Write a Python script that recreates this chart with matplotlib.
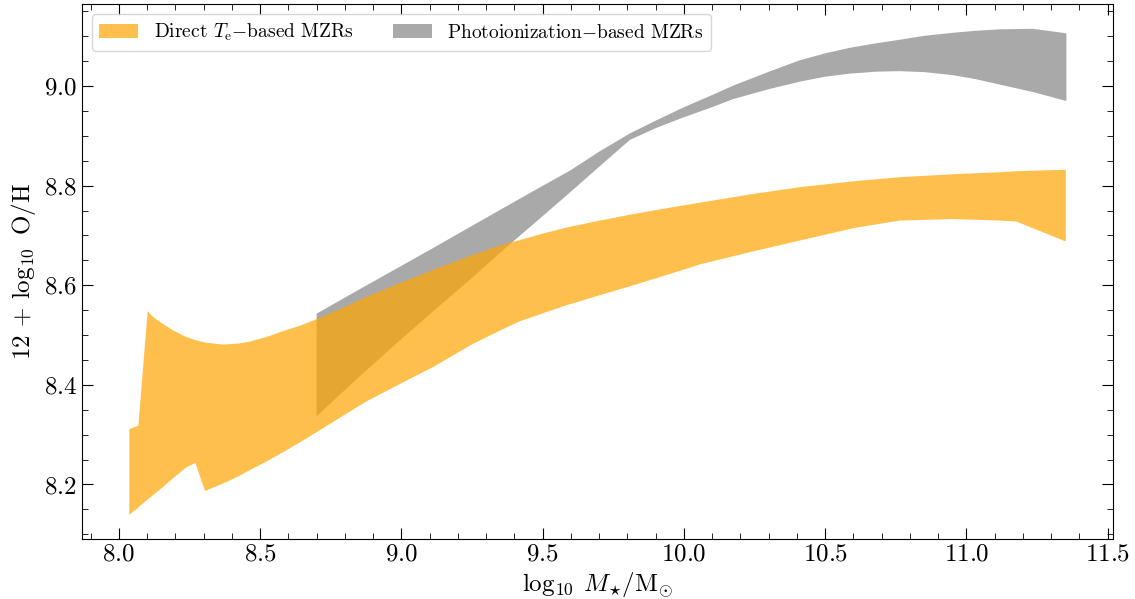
import numpy as np
import matplotlib.pyplot as plt
from matplotlib.patches import Patch
from matplotlib.ticker import MultipleLocator

plt.rcParams['font.family'] = 'serif'
plt.rcParams['font.serif'] = ['cmr10']
plt.rcParams['mathtext.fontset'] = 'cm'
plt.rcParams['axes.formatter.use_mathtext'] = True

# direct Te-based MZRs: envelope of the individual relations
te_mass = [8.035, 8.067, 8.100, 8.120, 8.150, 8.191, 8.238, 8.269, 8.303, 8.367,
           8.420, 8.462, 8.520, 8.580, 8.640, 8.698, 8.800, 8.875, 9.000, 9.111,
           9.250, 9.347, 9.418, 9.500, 9.583, 9.700, 9.819, 9.950, 10.055, 10.250,
           10.409, 10.600, 10.762, 10.950, 11.116, 11.175, 11.350]
te_upper = [8.312, 8.319, 8.549, 8.537, 8.525, 8.510, 8.497, 8.491, 8.486, 8.482,
            8.484, 8.488, 8.497, 8.509, 8.520, 8.533, 8.558, 8.578, 8.607, 8.632,
            8.662, 8.681, 8.692, 8.705, 8.717, 8.731, 8.744, 8.757, 8.767, 8.785,
            8.798, 8.810, 8.818, 8.824, 8.828, 8.830, 8.833]
te_lower = [8.140, 8.155, 8.171, 8.180, 8.194, 8.214, 8.236, 8.244, 8.188, 8.203,
            8.217, 8.230, 8.247, 8.266, 8.286, 8.306, 8.342, 8.368, 8.405, 8.437,
            8.483, 8.510, 8.529, 8.545, 8.561, 8.581, 8.601, 8.624, 8.643, 8.670,
            8.691, 8.716, 8.731, 8.734, 8.731, 8.729, 8.689]

# photoionization-based MZRs
ph_mass = [8.698, 8.850, 8.976, 9.111, 9.250, 9.365, 9.480, 9.594, 9.700, 9.807,
           9.900, 9.996, 10.090, 10.173, 10.300, 10.409, 10.500, 10.586, 10.680,
           10.762, 10.850, 10.950, 11.030, 11.116, 11.234, 11.352]
ph_upper = [8.544, 8.593, 8.633, 8.676, 8.721, 8.758, 8.795, 8.831, 8.870, 8.906,
            8.932, 8.958, 8.981, 9.002, 9.030, 9.053, 9.067, 9.078, 9.087,
            9.094, 9.102, 9.108, 9.112, 9.115, 9.116, 9.107]
ph_lower = [8.338, 8.418, 8.482, 8.549, 8.617, 8.675, 8.731, 8.787, 8.840, 8.893,
            8.917, 8.938, 8.957, 8.975, 8.995, 9.010, 9.020, 9.026, 9.030,
            9.031, 9.029, 9.023, 9.015, 9.004, 8.989, 8.971]

fig = plt.figure(figsize=(11.35, 5.99), dpi=100)
ax = fig.add_axes([0.0722, 0.1007, 0.9082, 0.8926])

ax.fill_between(ph_mass, ph_lower, ph_upper, color='darkgray', lw=0)
ax.fill_between(te_mass, te_lower, te_upper, color='orange', alpha=0.7, lw=0)

handles = [Patch(color='orange', alpha=0.7, lw=0),
           Patch(color='darkgray', lw=0)]
labels = [r'Direct $T_{\rm e}$$-$based MZRs', r'Photoionization$-$based MZRs']
ax.legend(handles, labels, loc='upper left', ncol=2, fontsize=14,
          frameon=True, borderaxespad=0.5)

ax.set_xlabel(r'$\log_{10}\;M_{\star}/\mathrm{M}_{\odot}$', fontsize=18)
ax.set_ylabel(r'12 + $\log_{10}$ O/H', fontsize=18)

ax.xaxis.set_minor_locator(MultipleLocator(0.1))
ax.yaxis.set_minor_locator(MultipleLocator(0.05))
ax.tick_params(which='both', direction='in', top=True, right=True, labelsize=18)
ax.tick_params(which='major', length=8)
ax.tick_params(which='minor', length=4)

plt.savefig('out.png', dpi=100)
plt.close()
